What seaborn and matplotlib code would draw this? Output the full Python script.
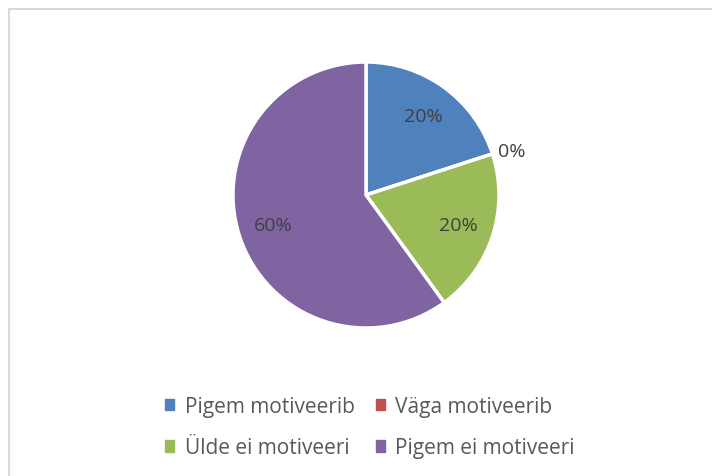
import numpy as np
import matplotlib
matplotlib.use("Agg")
import matplotlib.pyplot as plt
from matplotlib.patches import Rectangle
import seaborn as sns

categories = ["Pigem motiveerib", "Väga motiveerib", "Ülde ei motiveeri", "Pigem ei motiveeri"]
values = [20, 0, 20, 60]
colors = ["#4F81BD", "#C0504D", "#9BBB59", "#8064A2"]

sns.set_theme(style="white")
plt.rcParams["font.family"] = ["Open Sans", "DejaVu Sans"]

fig = plt.figure(figsize=(7.12, 4.77), dpi=100)
ax = fig.add_axes([233 / 712, 148 / 477, 266 / 712, 266 / 477])

wedges, texts, autotexts = ax.pie(
    values, colors=colors, startangle=90, counterclock=False,
    autopct="%1.0f%%", pctdistance=0.73,
    wedgeprops=dict(edgecolor="white", linewidth=2.5),
    textprops=dict(color="#404040", fontsize=14),
)
ax.set_xlim(-1, 1)
ax.set_ylim(-1, 1)
ax.set_aspect("equal")

# zero slice label sits outside the pie
for v, t in zip(values, autotexts):
    if v == 0:
        x, y = t.get_position()
        t.set_position((x / 0.73 * 1.15, y / 0.73 * 1.08))

# legend fills row by row like the original
order = [0, 2, 1, 3]
handles = [plt.Rectangle((0, 0), 1, 1, color=colors[i]) for i in order]
labels = [categories[i] for i in order]
fig.legend(handles, labels, ncol=2, loc="center", bbox_to_anchor=(370 / 712, 1 - 428 / 477),
           frameon=False, fontsize=15, labelcolor="#595959",
           handlelength=0.45, handleheight=0.45, handletextpad=0.5,
           columnspacing=1.0, labelspacing=1.0)

fig.patches.append(Rectangle((8.5 / 712, -0.2), 1.2, 1.2 - 9.5 / 477,
                             transform=fig.transFigure, fill=False,
                             edgecolor="#d9d9d9", linewidth=1.5))

fig.savefig("out.png", dpi=100)
